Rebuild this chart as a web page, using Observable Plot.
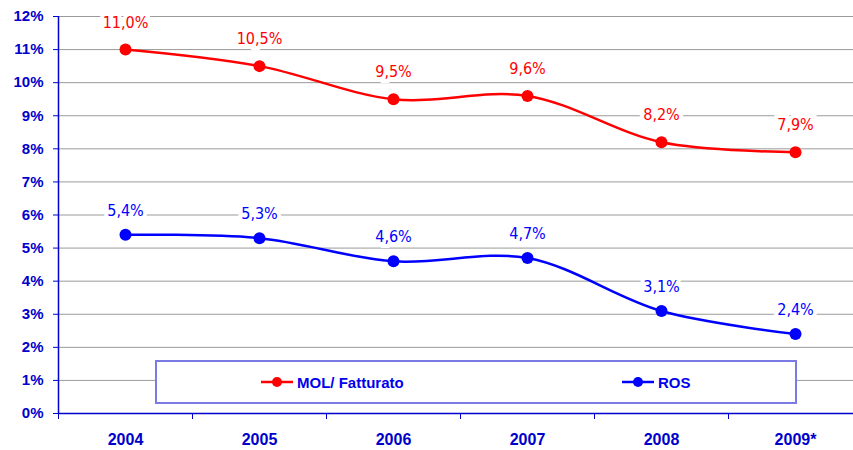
<!DOCTYPE html>
<html><head><meta charset="utf-8">
<script src="https://cdn.jsdelivr.net/npm/d3@7"></script>
<script src="https://cdn.jsdelivr.net/npm/@observablehq/plot@0.6"></script>
<style>
body{margin:0;background:#fff}
#wrap{position:relative;width:853px;height:450px;overflow:hidden}
#wrap g[aria-label="text"] text{font-stretch:condensed}
.legend{position:absolute;left:155px;top:360px;width:638px;height:40px;border:2px solid #7b7be6;background:#fff;font:bold 15px "Liberation Sans",Arial,sans-serif;color:#0000ee}
.item{position:absolute;top:0;height:40px;display:flex;align-items:center}
.item svg{margin-right:4px}
</style>
</head><body>
<div id="wrap"></div>
<script>
const years = ["2004","2005","2006","2007","2008","2009*"];
const mol = [11.0, 10.5, 9.5, 9.6, 8.2, 7.9];
const ros = [5.4, 5.3, 4.6, 4.7, 3.1, 2.4];
const yTicks = [0,1,2,3,4,5,6,7,8,9,10,11,12];
const seriesNames = ["MOL/ Fatturato", "ROS"];
const seriesColors = ["#ff0000", "#0000ff"];

const axisBlue = "#0000cc";
const molRows = years.map((y,i)=>({i, year:y, v:mol[i]}));
const rosRows = years.map((y,i)=>({i, year:y, v:ros[i]}));
const fmt = v => v.toFixed(1).replace(".", ",") + "%";
const boundaries = d3.range(years.length).map(i => i - 0.5);

const labelFont = "'DejaVu Sans Condensed','DejaVu Sans',sans-serif";

const chart = Plot.plot({
  width: 853, height: 450,
  marginLeft: 58, marginRight: 0, marginTop: 16, marginBottom: 37,
  x: {domain: [-0.5, years.length - 0.5], range: [58, 862]},
  y: {domain: [0, 12]},
  style: {background: "white", fontFamily: "'Liberation Sans',Arial,sans-serif"},
  marks: [
    Plot.ruleY(yTicks.filter(d => d > 0), {stroke: "#9a9a9a", strokeWidth: 1}),
    Plot.axisY({ticks: yTicks, tickFormat: d => d + "%", tickSize: 5, tickPadding: 10, color: axisBlue, fontSize: 15, fontWeight: "bold", label: null}),
    Plot.axisX({ticks: boundaries, tickFormat: () => "", tickSize: 6, color: axisBlue, label: null}),
    Plot.axisX({ticks: d3.range(years.length), tickFormat: i => years[i], tickSize: 0, tickPadding: 20, color: axisBlue, fontSize: 16, fontWeight: "bold", label: null}),
    Plot.ruleX([-0.5], {stroke: axisBlue, strokeWidth: 1.5}),
    Plot.ruleY([0], {stroke: axisBlue, strokeWidth: 1.5}),
    Plot.line(molRows, {x: "i", y: "v", stroke: seriesColors[0], strokeWidth: 2.5, curve: "catmull-rom"}),
    Plot.line(rosRows, {x: "i", y: "v", stroke: seriesColors[1], strokeWidth: 2.5, curve: "catmull-rom"}),
    Plot.dot(molRows, {x: "i", y: "v", r: 6, fill: seriesColors[0]}),
    Plot.dot(rosRows, {x: "i", y: "v", r: 6, fill: seriesColors[1]}),
    Plot.text(molRows, {x: "i", y: "v", text: d => fmt(d.v), dy: -27, fill: seriesColors[0], stroke: "white", strokeWidth: 8, strokeLinejoin: "miter", fontSize: 16, fontFamily: labelFont}),
    Plot.text(rosRows, {x: "i", y: "v", text: d => fmt(d.v), dy: -24, fill: seriesColors[1], stroke: "white", strokeWidth: 8, strokeLinejoin: "miter", fontSize: 16, fontFamily: labelFont})
  ]
});
const wrap = document.getElementById("wrap");
wrap.appendChild(chart);

const legend = document.createElement("div");
legend.className = "legend";
const lefts = [104, 465];
seriesNames.forEach((name, k) => {
  const it = document.createElement("div");
  it.className = "item";
  it.style.left = lefts[k] + "px";
  it.innerHTML = `<svg width="32" height="12"><line x1="0" y1="6" x2="32" y2="6" stroke="${seriesColors[k]}" stroke-width="2.5"/><circle cx="16" cy="6" r="5" fill="${seriesColors[k]}"/></svg><span>${name}</span>`;
  legend.appendChild(it);
});
wrap.appendChild(legend);
</script>
</body></html>
